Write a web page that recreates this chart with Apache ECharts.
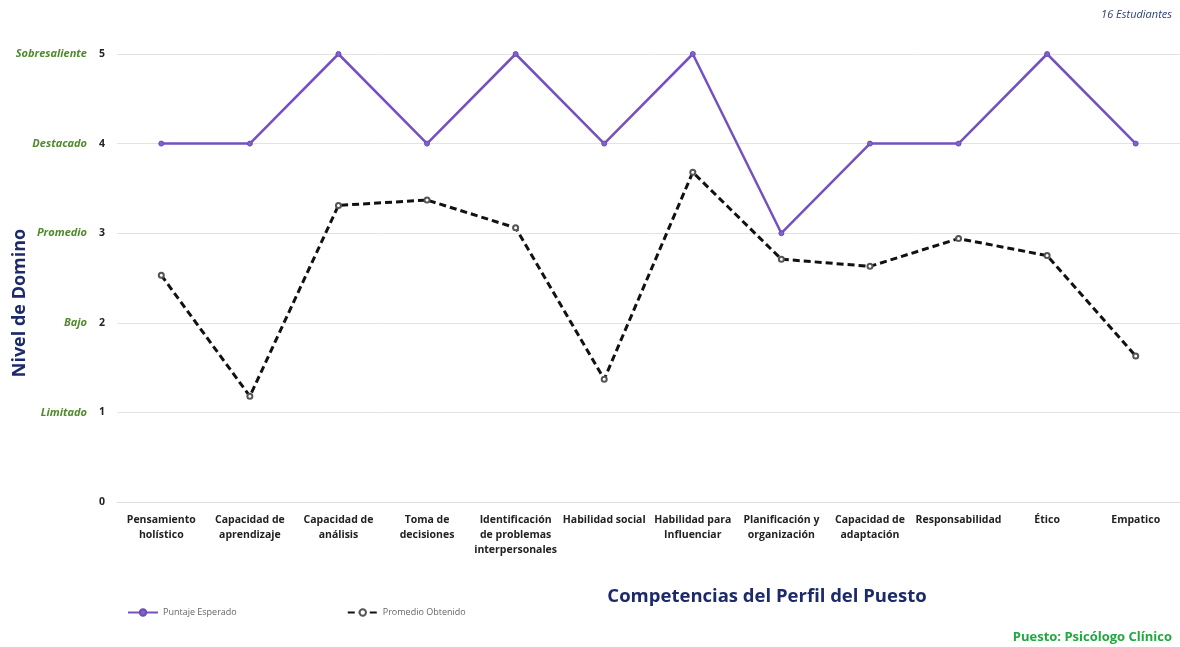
<!DOCTYPE html>
<html>
<head>
<meta charset="utf-8">
<script src="https://cdn.jsdelivr.net/npm/echarts@6/dist/echarts.min.js"></script>
<style>
html,body{margin:0;padding:0;background:#fff;}
#chart{width:1180px;height:647px;}
</style>
</head>
<body>
<div id="chart"></div>
<script>
const categories = [
  "Pensamiento\nholístico",
  "Capacidad de\naprendizaje",
  "Capacidad de\nanálisis",
  "Toma de\ndecisiones",
  "Identificación\nde problemas\ninterpersonales",
  "Habilidad social",
  "Habilidad para\nInfluenciar",
  "Planificación y\norganización",
  "Capacidad de\nadaptación",
  "Responsabilidad",
  "Ético",
  "Empatico"
];
const puntajeEsperado = [4, 4, 5, 4, 5, 4, 5, 3, 4, 4, 5, 4];
const promedioObtenido = [2.53, 1.18, 3.31, 3.37, 3.06, 1.37, 3.68, 2.71, 2.63, 2.94, 2.75, 1.63];
const levelNames = ["", "Limitado", "Bajo", "Promedio", "Destacado", "Sobresaliente"];
const seriesNames = ["Puntaje Esperado", "Promedio Obtenido"];

const chart = echarts.init(document.getElementById('chart'), null, {renderer: 'canvas'});
const baseFont = "'Open Sans', 'Liberation Sans', sans-serif";
chart.setOption({
  animation: false,
  backgroundColor: '#ffffff',
  grid: {left: 117, right: -4, top: 54, bottom: 145, containLabel: false},
  legend: {
    left: 122, top: 603,
    itemWidth: 30, itemHeight: 8, itemGap: 110,
    textStyle: {fontSize: 9, color: '#666', fontFamily: baseFont},
    data: seriesNames
  },
  xAxis: {
    type: 'category',
    data: categories,
    boundaryGap: true,
    axisLine: {show: true, lineStyle: {color: '#dddddd', width: 1}},
    axisTick: {show: false},
    axisLabel: {
      interval: 0, margin: 11,
      fontSize: 10.5, fontWeight: 'bold', color: '#222',
      fontFamily: baseFont, lineHeight: 15
    }
  },
  yAxis: {
    type: 'value', min: 0, max: 5, interval: 1,
    axisLine: {show: false}, axisTick: {show: false},
    splitLine: {lineStyle: {color: '#e3e3e3', width: 1}},
    axisLabel: {
      margin: 12,
      formatter: function (v) {
        const n = levelNames[v] || '';
        return (n ? '{lvl|' + n + '}' : '') + '{num|' + v + '}';
      },
      rich: {
        lvl: {fontSize: 11, fontStyle: 'italic', fontWeight: 'bold', color: '#4f8a2c', fontFamily: baseFont, padding: [0, 12, 0, 0]},
        num: {fontSize: 10.5, fontWeight: 'bold', color: '#222', fontFamily: baseFont}
      }
    }
  },
  graphic: [
    {type: 'text', x: 1172, y: 15, style: {text: '16 Estudiantes', fontSize: 11, fontStyle: 'italic', fill: '#2e3f7a', fontFamily: baseFont, align: 'right', verticalAlign: 'middle'}},
    {type: 'text', x: 20, y: 303, rotation: Math.PI / 2, style: {text: 'Nivel de Domino', fontSize: 18, fontWeight: 'bold', fill: '#1c2a6b', fontFamily: baseFont, align: 'center', verticalAlign: 'middle'}},
    {type: 'text', x: 767, y: 597, style: {text: 'Competencias del Perfil del Puesto', fontSize: 18.5, fontWeight: 'bold', fill: '#1c2a6b', fontFamily: baseFont, align: 'center', verticalAlign: 'middle'}},
    {type: 'text', x: 1172, y: 637, style: {text: 'Puesto: Psicólogo Clínico', fontSize: 13, fontWeight: 'bold', fill: '#1faa3f', fontFamily: baseFont, align: 'right', verticalAlign: 'middle'}}
  ],
  series: [
    {
      name: seriesNames[0], type: 'line', data: puntajeEsperado,
      symbol: 'circle', symbolSize: 5,
      lineStyle: {color: '#7450c0', width: 2.5},
      itemStyle: {color: '#7f63c8', borderColor: '#6a4bb8', borderWidth: 1}
    },
    {
      name: seriesNames[1], type: 'line', data: promedioObtenido,
      symbol: 'emptyCircle', symbolSize: 5,
      lineStyle: {color: '#111', width: 3, type: [7, 4]},
      itemStyle: {color: '#555', borderColor: '#555', borderWidth: 1}
    }
  ]
});
</script>
</body>
</html>
